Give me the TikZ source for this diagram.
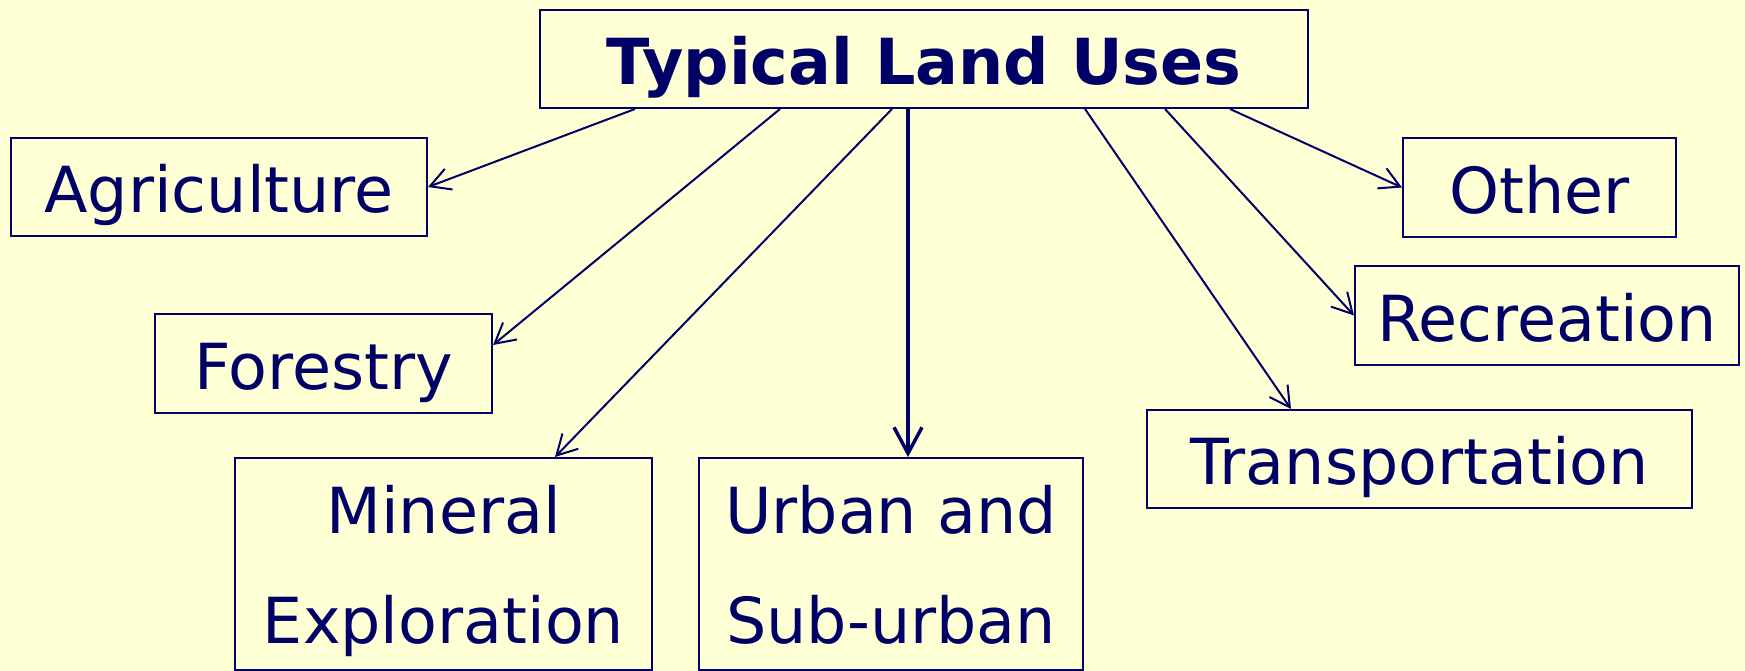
\documentclass[tikz,border=0pt]{standalone}
\usepackage{fontspec}
\setmainfont{DejaVu Sans}
\usetikzlibrary{arrows.meta}
\definecolor{navy}{RGB}{0,0,102}
\definecolor{bgyellow}{RGB}{255,255,213}
\begin{document}
\begin{tikzpicture}[x=1pt,y=-1pt,
  box/.style={draw=navy, line width=2pt, inner sep=0pt},
  txt/.style={text=navy, font=\fontsize{63.5}{63.5}\selectfont, inner sep=0pt, anchor=base},
  conn/.style={navy, line width=2pt, -{Straight Barb[length=20pt,width=22pt]}},
  thickconn/.style={navy, line width=3.5pt, -{Straight Barb[length=26pt,width=28pt]}}]
\fill[bgyellow] (0,0) rectangle (1745,671);
\useasboundingbox (0,0) rectangle (1745,671);
% boxes
\node[box, minimum width=768pt, minimum height=98pt] (title) at (924,59) {};
\node[box, minimum width=416pt, minimum height=98pt] (agri) at (219,187) {};
\node[box, minimum width=337pt, minimum height=99pt] (fore) at (323.5,363.5) {};
\node[box, minimum width=417pt, minimum height=212pt] (mine) at (443.5,564) {};
\node[box, minimum width=384pt, minimum height=212pt] (urb) at (891,564) {};
\node[box, minimum width=545pt, minimum height=98pt] (tra) at (1419.5,459) {};
\node[box, minimum width=273pt, minimum height=99pt] (oth) at (1539.5,187.5) {};
\node[box, minimum width=384pt, minimum height=99pt] (rec) at (1547,315.5) {};
% texts
\node[txt, font=\fontsize{63.5}{63.5}\selectfont\bfseries] (ttitle) at (924,85) {Typical Land Uses};
\node[txt] (tagri) at (219,212) {Agriculture};
\node[txt] (tfore) at (323.5,389) {Forestry};
\node[txt] (tmine1) at (443.5,533) {Mineral};
\node[txt] (tmine2) at (443.5,643) {Exploration};
\node[txt] (turb1) at (891,533) {Urban and};
\node[txt] (turb2) at (891,643) {Sub-urban};
\node[txt] (ttra) at (1419.5,484) {Transportation};
\node[txt] (toth) at (1539.5,214) {Other};
\node[txt] (trec) at (1547,341) {Recreation};
% connectors
\draw[conn] ([xshift=-289pt]title.south) -- (agri.east);
\draw[conn] ([xshift=-144pt]title.south) -- ([yshift=18.5pt]fore.east);
\draw[conn] ([xshift=-32pt]title.south) -- ([xshift=111.5pt]mine.north);
\draw[thickconn] ([xshift=-16pt]title.south) -- ([xshift=17pt]urb.north);
\draw[conn] ([xshift=161pt]title.south) -- ([xshift=-128.5pt]tra.north);
\draw[conn] ([xshift=241pt]title.south) -- (rec.west);
\draw[conn] ([xshift=306pt]title.south) -- (oth.west);
\end{tikzpicture}
\end{document}
